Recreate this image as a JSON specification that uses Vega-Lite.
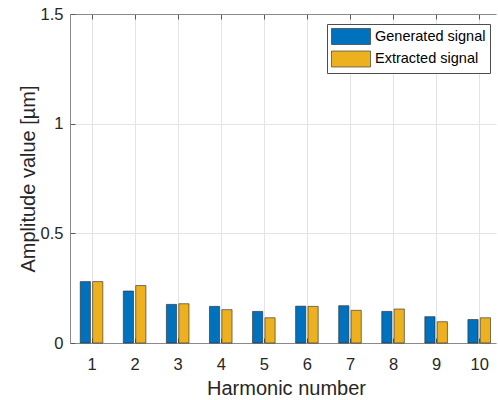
{
  "$schema": "https://vega.github.io/schema/vega-lite/v6.json",
  "autosize": {"type": "none"},
  "padding": {"left": 70, "top": 14, "right": 2, "bottom": 57},
  "width": 426,
  "height": 329,
  "background": "white",
  "config": {
    "font": "Liberation Sans",
    "view": {"stroke": null},
    "axis": {
      "labelFont": "Liberation Sans",
      "titleFont": "Liberation Sans",
      "labelColor": "#262626",
      "titleColor": "#262626",
      "titleFontWeight": "normal",
      "domainColor": "#8a8a8a",
      "tickColor": "#5a5a5a",
      "gridColor": "#e3e3e3",
      "labelFontSize": 16.5,
      "titleFontSize": 20
    }
  },
  "data": {
    "values": [
      {"harmonic": 1, "series": "Generated signal", "value": 0.280},
      {"harmonic": 1, "series": "Extracted signal", "value": 0.280},
      {"harmonic": 2, "series": "Generated signal", "value": 0.237},
      {"harmonic": 2, "series": "Extracted signal", "value": 0.262},
      {"harmonic": 3, "series": "Generated signal", "value": 0.176},
      {"harmonic": 3, "series": "Extracted signal", "value": 0.179},
      {"harmonic": 4, "series": "Generated signal", "value": 0.167},
      {"harmonic": 4, "series": "Extracted signal", "value": 0.152},
      {"harmonic": 5, "series": "Generated signal", "value": 0.144},
      {"harmonic": 5, "series": "Extracted signal", "value": 0.115},
      {"harmonic": 6, "series": "Generated signal", "value": 0.168},
      {"harmonic": 6, "series": "Extracted signal", "value": 0.167},
      {"harmonic": 7, "series": "Generated signal", "value": 0.170},
      {"harmonic": 7, "series": "Extracted signal", "value": 0.149},
      {"harmonic": 8, "series": "Generated signal", "value": 0.144},
      {"harmonic": 8, "series": "Extracted signal", "value": 0.155},
      {"harmonic": 9, "series": "Generated signal", "value": 0.120},
      {"harmonic": 9, "series": "Extracted signal", "value": 0.097},
      {"harmonic": 10, "series": "Generated signal", "value": 0.107},
      {"harmonic": 10, "series": "Extracted signal", "value": 0.115}
    ]
  },
  "encoding": {
    "y": {
      "field": "value",
      "type": "quantitative",
      "scale": {"domain": [0, 1.5], "nice": false, "zero": true, "padding": 0},
      "axis": {
        "title": "Amplitude value [µm]",
        "values": [0, 0.5, 1, 1.5],
        "format": "~g",
        "tickSize": -5,
        "labelPadding": 12,
        "titlePadding": 2,
        "grid": true
      }
    },
    "color": {
      "field": "series",
      "type": "nominal",
      "scale": {"domain": ["Generated signal", "Extracted signal"], "range": ["#0072BD", "#EDB120"]},
      "legend": {
        "title": null,
        "orient": "none",
        "legendX": 257,
        "legendY": 10,
        "fillColor": "white",
        "strokeColor": "#4d4d4d",
        "padding": 4,
        "symbolType": "M-1,-1H3.875V1H-1Z",
        "symbolSize": 256,
        "symbolStrokeColor": "#262626",
        "symbolStrokeWidth": 0.6,
        "symbolOpacity": 1,
        "labelFont": "Liberation Sans",
        "labelFontSize": 14.5,
        "labelColor": "#000000",
        "labelOffset": 27,
        "rowPadding": 3.5
      }
    }
  },
  "layer": [
    {
      "transform": [{"filter": "datum.series === 'Generated signal'"}],
      "mark": {"type": "bar", "width": 10.2, "xOffset": -6.2, "stroke": "#262626", "strokeWidth": 0.6, "opacity": 1},
      "encoding": {
        "x": {
          "field": "harmonic",
          "type": "quantitative",
          "scale": {"domain": [0.5, 10.39], "nice": false, "zero": false, "padding": 0},
          "axis": {
            "title": "Harmonic number",
            "values": [1, 2, 3, 4, 5, 6, 7, 8, 9, 10],
            "format": "d",
            "tickSize": -5,
            "labelPadding": 18,
            "titlePadding": 6,
            "titleX": 216,
            "grid": true,
            "orient": "bottom"
          }
        }
      }
    },
    {
      "transform": [{"filter": "datum.series === 'Extracted signal'"}],
      "mark": {"type": "bar", "width": 10.2, "xOffset": 6.2, "stroke": "#262626", "strokeWidth": 0.6, "opacity": 1},
      "encoding": {
        "x": {"field": "harmonic", "type": "quantitative", "axis": null}
      }
    },
    {
      "mark": {"type": "point", "opacity": 0},
      "encoding": {
        "x": {
          "field": "harmonic",
          "type": "quantitative",
          "axis": {
            "orient": "top",
            "title": null,
            "labels": false,
            "grid": false,
            "values": [1, 2, 3, 4, 5, 6, 7, 8, 9, 10],
            "tickSize": -5
          }
        },
        "color": {"value": "transparent"}
      }
    }
  ],
  "resolve": {"axis": {"x": "independent"}}
}
